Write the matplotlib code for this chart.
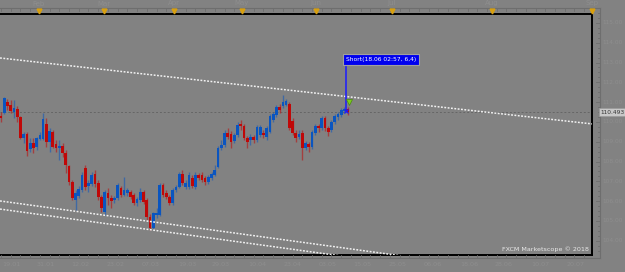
import matplotlib.pyplot as plt
from matplotlib.lines import Line2D
from matplotlib.patches import Rectangle

# daily USD/JPY candles
opens = [110.30, 110.46, 111.01, 110.86, 110.51, 110.66, 110.25, 109.19, 109.39, 108.64,
         108.94, 108.74, 109.14, 109.14, 109.90, 108.99, 109.49, 108.89, 108.69, 108.79,
         108.43, 107.78, 106.97, 106.06, 106.26, 106.57, 107.68, 106.77, 106.87, 107.37,
         106.92, 106.21, 105.45, 106.41, 106.16, 106.06, 106.16, 106.66, 106.31, 106.41,
         106.46, 106.31, 105.91, 106.06, 106.46, 106.06, 105.20, 104.65, 105.30, 105.30,
         106.82, 106.41, 106.21, 105.91, 106.57, 106.72, 107.37, 106.72, 106.72, 107.17,
         106.72, 107.32, 107.32, 107.17, 106.97, 107.17, 107.32, 107.73, 108.69, 108.84,
         109.44, 109.39, 109.04, 109.34, 109.90, 109.80, 109.19, 109.09, 109.24, 109.09,
         109.34, 109.44, 109.24, 109.49, 110.10, 110.35, 110.76, 110.81, 110.86, 110.91,
         110.05, 109.44, 109.24, 109.44, 108.69, 108.89, 108.74, 109.44, 109.80, 109.70,
         110.20, 109.70, 109.60, 110.00, 110.25, 110.35, 110.56, 110.66]
highs = [110.51, 111.26, 111.16, 111.11, 111.11, 110.81, 110.30, 109.49, 109.49, 109.19,
         109.19, 109.24, 109.49, 110.45, 110.20, 109.70, 109.60, 109.09, 109.09, 108.94,
         108.59, 107.83, 107.07, 106.57, 106.77, 107.47, 107.83, 107.07, 107.47, 107.58,
         107.07, 106.31, 106.57, 106.66, 106.31, 106.26, 106.92, 106.77, 107.22, 106.66,
         106.57, 106.41, 106.21, 106.66, 106.57, 106.16, 105.35, 105.45, 105.66, 106.92,
         106.92, 106.57, 106.31, 106.66, 106.82, 107.47, 107.58, 107.07, 107.47, 107.32,
         107.47, 107.42, 107.47, 107.27, 107.32, 107.47, 107.83, 108.79, 109.09, 109.60,
         109.70, 109.54, 109.44, 110.00, 110.10, 109.90, 109.29, 109.39, 109.34, 109.85,
         109.85, 109.60, 109.80, 110.40, 110.51, 110.86, 110.91, 111.36, 111.16, 111.01,
         110.20, 109.60, 109.60, 109.60, 109.04, 108.99, 109.60, 109.90, 109.90, 110.30,
         110.30, 109.80, 110.10, 110.40, 110.51, 110.71, 110.76, 110.76]
lows = [110.00, 110.40, 110.61, 110.45, 110.20, 110.00, 109.14, 108.94, 108.28, 108.48,
        108.43, 108.59, 109.09, 109.09, 108.74, 108.48, 108.69, 108.48, 108.08, 108.23,
        107.42, 106.82, 106.06, 105.56, 106.16, 106.46, 106.57, 106.46, 106.77, 106.72,
        106.06, 105.45, 105.30, 105.81, 105.66, 105.91, 106.06, 106.21, 106.26, 106.26,
        106.11, 105.81, 105.76, 105.96, 105.86, 105.05, 104.54, 104.59, 105.15, 105.25,
        106.21, 106.11, 105.81, 105.81, 106.46, 106.66, 106.82, 106.61, 106.61, 106.66,
        106.61, 107.07, 106.97, 106.82, 106.87, 107.07, 107.27, 107.68, 108.59, 108.74,
        109.14, 108.69, 108.94, 109.24, 109.60, 109.09, 108.69, 108.84, 108.94, 108.99,
        109.24, 109.19, 109.09, 109.44, 110.00, 110.25, 110.45, 110.71, 110.81, 109.60,
        109.34, 108.99, 109.14, 108.08, 108.59, 108.48, 108.64, 109.34, 109.49, 109.60,
        109.54, 109.29, 109.49, 109.90, 110.10, 110.25, 110.45, 110.35]
closes = [110.20, 111.21, 110.81, 110.56, 110.71, 110.25, 109.19, 109.39, 108.53, 108.94,
          108.69, 109.19, 109.34, 110.15, 108.99, 109.54, 108.74, 108.69, 108.79, 108.43,
          107.83, 106.97, 106.16, 106.41, 106.62, 107.32, 106.72, 106.92, 107.32, 106.87,
          106.21, 105.66, 106.46, 106.16, 106.01, 106.16, 106.82, 106.31, 106.57, 106.57,
          106.21, 105.91, 106.11, 106.46, 105.96, 105.20, 104.65, 105.40, 105.40, 106.82,
          106.31, 106.21, 105.91, 106.57, 106.72, 107.37, 106.92, 106.92, 107.32, 106.77,
          107.32, 107.17, 107.07, 106.97, 107.22, 107.37, 107.58, 108.69, 108.84, 109.44,
          109.24, 108.99, 109.34, 109.85, 109.80, 109.19, 108.99, 109.24, 109.09, 109.75,
          109.75, 109.34, 109.70, 110.30, 110.40, 110.76, 110.61, 111.01, 111.06, 109.70,
          109.44, 109.19, 109.39, 108.69, 108.94, 108.74, 109.49, 109.80, 109.70, 110.20,
          109.70, 109.49, 110.00, 110.30, 110.40, 110.61, 110.66, 110.49]

last_price = 110.493
signal_text = 'Short(18.06 02:57, 6,4)'
signal_x, signal_price, signal_top = 106.5, 110.56, 113.15
arrow_x, arrow_price = 107.4, 111.01

# channel lines (x in candle index, y in price)
chan_top_x, chan_top_y = [-0.3, 182.4], [113.23, 109.90]
chan_lo1_x, chan_lo1_y = [-0.3, 182.4], [106.01, 101.92]
chan_lo2_x, chan_lo2_y = [-0.3, 182.4], [105.60, 101.49]

month_names = ['Feb', 'Mar', 'Apr', 'May', 'Jun', 'Jul', 'Aug', 'Sep']
month_pos = [11.7, 31.8, 53.4, 74.4, 97.2, 120.7, 151.5, 182.4]
date_labels = ['19.01', '31.01', '12.02', '23.02', '07.03', '19.03', '29.03', '10.04',
               '23.04', '03.05', '15.05', '25.05', '06.06', '18.06', '28.06', '10.07', '20.07']
date_pos = [3.1, 13.9, 24.4, 35.2, 46.3, 57.4, 67.9, 79.0, 90.1, 100.9, 111.4, 122.5,
            133.3, 144.4, 155.2, 166.4, 177.2]
price_ticks = [115, 114, 113, 112, 111, 110, 109, 108, 107, 106, 105, 104]

BG = '#828282'
FAINT = '#8e8e8e'
UP = '#0a55c0'
DOWN = '#c00808'

W, H = 625, 272
YLO, YHI = 103.28, 115.45
fig = plt.figure(figsize=(6.25, 2.72), dpi=100)
fig.patch.set_facecolor(BG)
ax = fig.add_axes([0, 17 / H, 592 / W, 241 / H])
ax.set_facecolor(BG)
ax.set_xlim(-0.31, 182.4)
ax.set_ylim(YLO, YHI)


def fig_y(p):
    return (p - YLO) / (YHI - YLO) * (241 / H) + 17 / H


for i, (o, h, l, c) in enumerate(zip(opens, highs, lows, closes)):
    col = UP if c >= o else DOWN
    ax.plot([i, i], [l, h], color=col, lw=1.0, alpha=0.55, solid_capstyle='butt', zorder=2)
    lo, hi = min(o, c), max(o, c)
    ax.add_patch(Rectangle((i - 0.42, lo), 0.84, max(hi - lo, 0.04), facecolor=col,
                           edgecolor='none', zorder=3))

dots = (0, (1.2, 1.0))
for xs, ys in [(chan_top_x, chan_top_y), (chan_lo1_x, chan_lo1_y), (chan_lo2_x, chan_lo2_y)]:
    ax.plot(xs, ys, color='#f2f2f2', lw=1.1, linestyle=dots, zorder=4)

ax.axhline(last_price, color='#666666', lw=0.7, linestyle=(0, (2, 2)), zorder=1)

# signal marker
ax.plot([signal_x, signal_x], [signal_price, signal_top], color='#1a1aff', lw=1.1, zorder=5)
ax.plot(signal_x, signal_price, marker='x', color='#1a1aff', ms=3, mew=0.8, zorder=5)
ax.plot(arrow_x, arrow_price, marker='v', color='#7ccc1c', ms=5, mec='#4a8a10', mew=0.5, zorder=6)
ax.text(signal_x, signal_top, signal_text, color='white', fontsize=4.3, ha='left', va='center',
        bbox=dict(boxstyle='square,pad=0.5', fc='#0000ee', ec='#a0a0a0', lw=0.8), zorder=7)

ax.spines['left'].set_visible(False)
for side in ['top', 'right', 'bottom']:
    ax.spines[side].set_color('black')
    ax.spines[side].set_linewidth(1.4)
ax.set_xticks([])
ax.set_yticks([])

# frame strips around the chart
TICK = '#6e6e6e'
top_y = 1 - 8 / H
bot_y = 1 - 258 / H
fig.add_artist(Line2D([0, 600 / W], [top_y, top_y], color=TICK, lw=0.8))
fig.add_artist(Line2D([600 / W, 600 / W], [top_y, bot_y], color=TICK, lw=0.8))
fig.add_artist(Line2D([0, 600 / W], [bot_y, bot_y], color=TICK, lw=0.8))
for k in range(0, 183, 3):
    xf = (1 + 3.24 * k) / W
    fig.add_artist(Line2D([xf, xf], [top_y, top_y - 3 / H], color=TICK, lw=0.6))
    fig.add_artist(Line2D([xf, xf], [bot_y, bot_y + 3 / H], color=TICK, lw=0.6))
for name, pos in zip(month_names, month_pos):
    xf = (1 + 3.24 * pos) / W
    fig.text(xf, 1 - 3.5 / H, name, color=FAINT, fontsize=5, ha='center', va='center')
    fig.add_artist(Line2D([xf], [1 - 11 / H], marker='v', color='#d8a010', ms=3.5, lw=0))

for lab, pos in zip(date_labels, date_pos):
    xf = (1 + 3.24 * pos) / W
    fig.text(xf, 1 - 265 / H, lab, color=FAINT, fontsize=4.6, ha='center', va='center')

for p in price_ticks:
    fig.text(602 / W, fig_y(p), f'{p:.2f}', color=FAINT, fontsize=4.2, ha='left', va='center')
for k in range(0, 49):
    p = 103.5 + 0.25 * k
    ln = 4 if k % 4 == 2 else 2
    fig.add_artist(Line2D([600 / W, (600 - ln) / W], [fig_y(p), fig_y(p)], color=TICK, lw=0.6))

fig.text(600 / W, fig_y(last_price), f'{last_price:.3f}', color='#333333', fontsize=4.2,
         ha='left', va='center',
         bbox=dict(boxstyle='square,pad=0.25', fc='#c8c8c8', ec='#9a9a9a', lw=0.5))

ax.text(0.995, 0.012, 'FXCM Marketscope © 2018', transform=ax.transAxes, color='#e8e8e8',
        fontsize=4.6, ha='right', va='bottom')

fig.savefig('out.png', dpi=100, facecolor=BG)
